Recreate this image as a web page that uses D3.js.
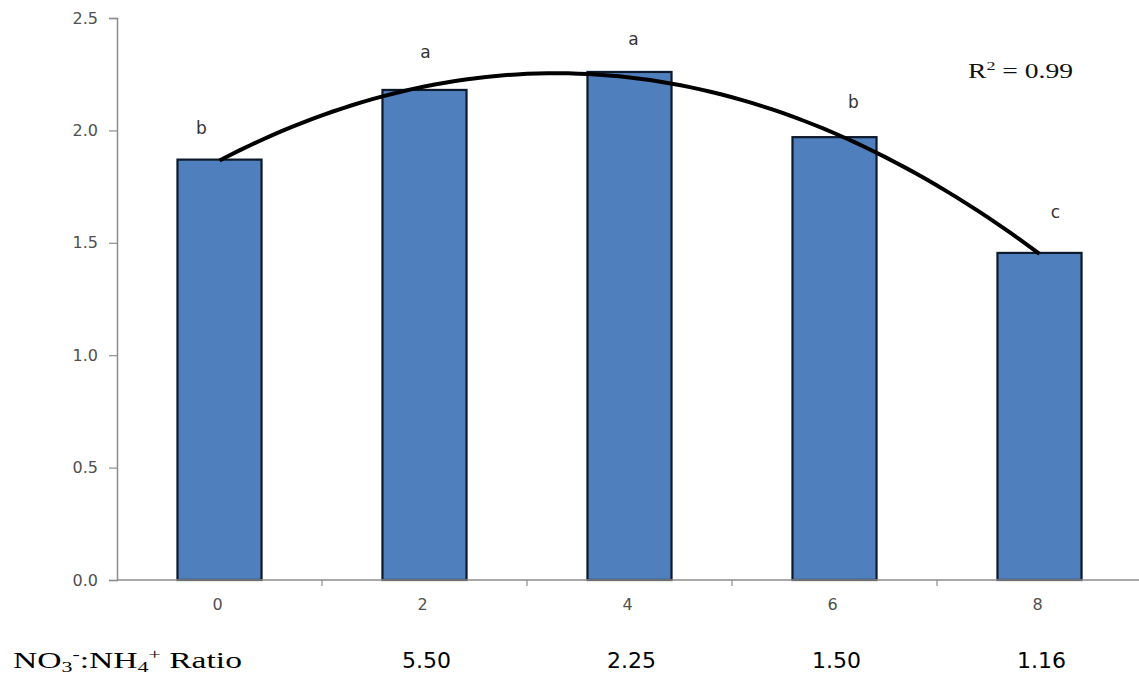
<!DOCTYPE html>
<html><head><meta charset="utf-8">
<script src="https://cdn.jsdelivr.net/npm/d3@7"></script>
<style>body{margin:0;background:#fff}</style>
</head><body><svg id="c" width="1139" height="679"></svg>
<script>
const categories = ["0","2","4","6","8"];
const values = [1.87, 2.18, 2.26, 1.97, 1.455];
const letters = ["b","a","a","b","c"];
const ratioLabels = ["", "5.50", "2.25", "1.50", "1.16"];
const yTicks = [0, 0.5, 1.0, 1.5, 2.0, 2.5];
const r2Text = "0.99";

const svg = d3.select("#c");
const x = d3.scaleBand().domain(categories).range([117, 1142]).paddingInner(0.59).paddingOuter(0.295);
const y = d3.scaleLinear().domain([0, 2.5]).range([580, 18]);
const xc = d => x(d) + x.bandwidth()/2;
const sans = "'DejaVu Sans', sans-serif";
const serif = "'Liberation Serif', 'Times New Roman', serif";

// y axis
const ya = svg.append("g").attr("transform","translate(117,0)")
  .call(d3.axisLeft(y).tickValues(yTicks).tickFormat(d3.format(".1f")).tickSizeOuter(0).tickSize(8).tickPadding(11));
ya.select(".domain").attr("stroke","#8c8c8c").attr("stroke-width",1.5);
ya.selectAll(".tick line").attr("stroke","#8c8c8c").attr("stroke-width",1.2);
ya.selectAll(".tick text").attr("font-family",sans).attr("font-size",16).attr("fill","#505050");

// bars
svg.append("g").selectAll("rect").data(values).join("rect")
  .attr("x",(d,i)=>x(categories[i])).attr("width",x.bandwidth())
  .attr("y",d=>y(d)).attr("height",d=>y(0)-y(d))
  .attr("fill","#4f7fbc").attr("stroke","#0d1a2b").attr("stroke-width",2.2);

// x axis
const xa = svg.append("g").attr("transform","translate(0,580)");
const step = x.step();
const x0 = x.range()[0];
xa.append("line").attr("x1",x0).attr("x2",1139).attr("y1",0).attr("y2",0).attr("stroke","#8c8c8c").attr("stroke-width",1.5);
xa.selectAll("line.t").data(d3.range(1,categories.length)).join("line").attr("class","t")
  .attr("x1",i=>x0+i*step).attr("x2",i=>x0+i*step).attr("y1",0).attr("y2",6)
  .attr("stroke","#8c8c8c").attr("stroke-width",1.2);
xa.selectAll("text").data(categories).join("text")
  .attr("x",d=>xc(d)-2).attr("y",30).attr("text-anchor","middle")
  .attr("font-family",sans).attr("font-size",16).attr("fill","#505050").text(d=>d);

// quadratic trendline (least squares on data)
const xs = categories.map(Number);
function fitQuad(xv, yv){
  let S=[0,0,0,0,0], T=[0,0,0];
  xv.forEach((xx,i)=>{for(let k=0;k<5;k++)S[k]+=Math.pow(xx,k);for(let k=0;k<3;k++)T[k]+=yv[i]*Math.pow(xx,k);});
  const A=[[S[0],S[1],S[2],T[0]],[S[1],S[2],S[3],T[1]],[S[2],S[3],S[4],T[2]]];
  for(let i=0;i<3;i++){for(let j=i+1;j<3;j++){const f=A[j][i]/A[i][i];for(let k=i;k<4;k++)A[j][k]-=f*A[i][k];}}
  const c=[0,0,0];
  for(let i=2;i>=0;i--){let s=A[i][3];for(let k=i+1;k<3;k++)s-=A[i][k]*c[k];c[i]=s/A[i][i];}
  return c;
}
const coef = fitQuad(xs, values);
const xLin = d3.scaleLinear().domain([0,8]).range([xc("0"), xc("8")]);
const pts = d3.range(0, 8.001, 0.1).map(t=>[xLin(t), y(coef[0]+coef[1]*t+coef[2]*t*t)]);
svg.append("path").attr("d", d3.line()(pts)).attr("fill","none").attr("stroke","#000").attr("stroke-width",4);

// letters
const letterDx = [-18, 1, 4, 19, 16];
const letterDy = [26, 32, 27, 29, 35];
svg.append("g").selectAll("text").data(letters).join("text")
  .attr("x",(d,i)=>xc(categories[i])+letterDx[i]).attr("y",(d,i)=>y(values[i])-letterDy[i])
  .attr("text-anchor","middle").attr("font-family",sans).attr("font-size",17).attr("fill","#333").text(d=>d);

// R2
const r = svg.append("text").attr("transform","translate(968,78) scale(1.38,1)")
  .attr("font-family",serif).attr("font-size",20).attr("fill","#111");
r.append("tspan").text("R");
r.append("tspan").attr("dy",-8).attr("font-size",13).text("2");
r.append("tspan").attr("dy",8).text(" = " + r2Text);

// ratio row
const lab = svg.append("text").attr("transform","translate(13,668) scale(1.46,1)")
  .attr("font-family",serif).attr("font-size",23).attr("fill","#000");
lab.append("tspan").text("NO");
lab.append("tspan").attr("dy",4).attr("font-size",15).text("3");
lab.append("tspan").attr("dy",-13).attr("font-size",15).text("-");
lab.append("tspan").attr("dy",9).text(":NH");
lab.append("tspan").attr("dy",4).attr("font-size",15).text("4");
lab.append("tspan").attr("dy",-13).attr("font-size",15).text("+");
lab.append("tspan").attr("dy",9).text(" Ratio");
svg.append("g").selectAll("text").data(ratioLabels).join("text")
  .attr("x",(d,i)=>xc(categories[i])+2).attr("y",668).attr("text-anchor","middle")
  .attr("font-family",sans).attr("font-size",22).attr("fill","#000").text(d=>d);
</script></body></html>
